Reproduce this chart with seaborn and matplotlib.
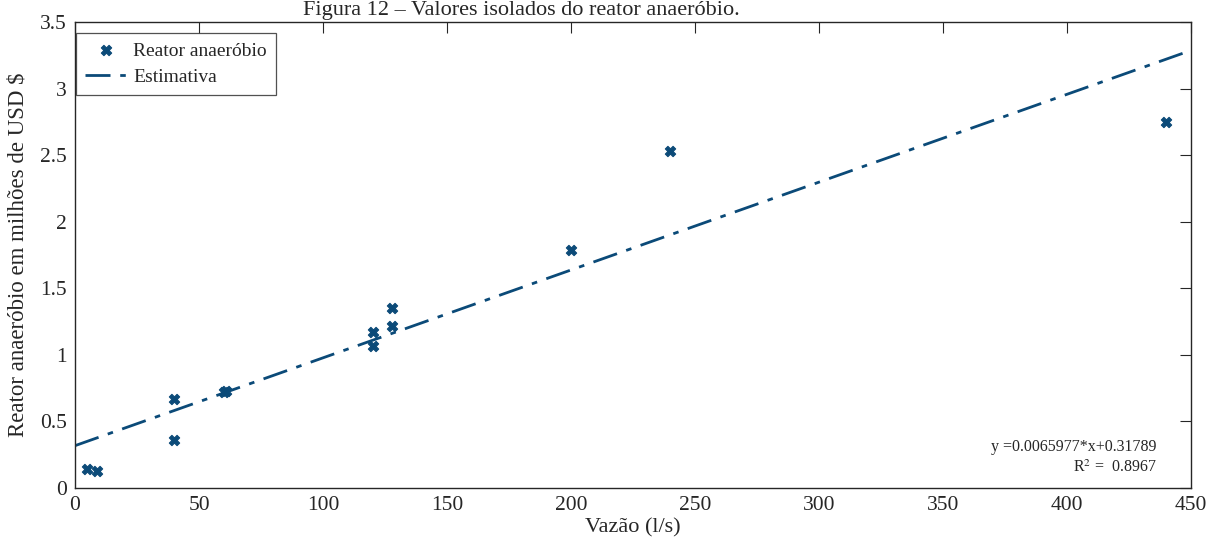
import matplotlib
matplotlib.use("Agg")
import matplotlib.pyplot as plt
import seaborn as sns
import numpy as np
import pandas as pd

# Data
vazao = [5, 9, 40, 40, 60, 61, 120, 120, 128, 128, 200, 240, 440]
custo = [0.14, 0.13, 0.67, 0.36, 0.72, 0.73, 1.17, 1.07, 1.35, 1.22, 1.79, 2.53, 2.75]
slope = 0.0065977
intercept = 0.31789
r2 = 0.8967
fit_x = [0, 450]

title = "Figura 12 – Valores isolados do reator anaeróbio."
xlabel = "Vazão (l/s)"
ylabel = "Reator anaeróbio em milhões de USD $"
xticks = [0, 50, 100, 150, 200, 250, 300, 350, 400, 450]
yticks = [0, 0.5, 1, 1.5, 2, 2.5, 3, 3.5]
ytick_labels = ["0", "0.5", "1", "1.5", "2", "2.5", "3", "3.5"]

color = "#0b4a78"
ink = "#262626"

sns.set_theme(style="white")
plt.rcParams["font.family"] = ["Liberation Serif", "DejaVu Serif"]
plt.rcParams["mathtext.fontset"] = "stix"

fig = plt.figure(figsize=(12.12, 5.47), dpi=100)
ax = fig.add_axes([75 / 1212, 1 - 488 / 547, (1191 - 75) / 1212, (488 - 22) / 547])

df = pd.DataFrame({"x": vazao, "y": custo})
fit_df = pd.DataFrame({"x": fit_x, "y": [slope * v + intercept for v in fit_x]})

sns.scatterplot(data=df, x="x", y="y", ax=ax, marker="X", s=55, color=color,
                edgecolor=color, linewidth=0.8, label="Reator anaeróbio", zorder=3)
sns.lineplot(data=fit_df, x="x", y="y", ax=ax, color=color, linewidth=2.0,
             label="Estimativa", zorder=2)
ax.lines[0].set_dashes([9, 3.5, 2, 3.5])

ax.set_xlim(0, 450)
ax.set_ylim(0, 3.5)
ax.set_xticks(xticks)
ax.set_xticklabels([str(t) for t in xticks])
ax.set_yticks(yticks)
ax.set_yticklabels(ytick_labels)
ax.tick_params(axis="both", which="both", direction="in", length=8, width=0.8,
               top=True, right=True, labelsize=15.5, colors=ink, pad=6)
for s in ax.spines.values():
    s.set_visible(True)
    s.set_color(ink)
    s.set_linewidth(1.0)

ax.set_xlabel(xlabel, fontsize=16, color=ink, labelpad=2)
ax.set_ylabel(ylabel, fontsize=16.5, color=ink, labelpad=8)

leg = ax.legend(loc="upper left", bbox_to_anchor=(0.0008, 0.976), fontsize=14,
                frameon=True, fancybox=False, edgecolor=ink, borderaxespad=0,
                handlelength=2.2, borderpad=0.45, labelspacing=0.45,
                handletextpad=0.3)
leg.get_frame().set_linewidth(0.9)

ax.text(0.9695, 0.088, "y =0.0065977*x+0.31789", transform=ax.transAxes,
        ha="right", va="center", fontsize=11.5, color=ink)
ax.text(0.9695, 0.043, "R$^2$ =  " + f"{r2:.4f}", transform=ax.transAxes,
        ha="right", va="center", fontsize=11.5, color=ink)

fig.text(521 / 1212, 0.999, title, ha="center", va="top", fontsize=16, color=ink)

fig.savefig("out.png", dpi=100)
